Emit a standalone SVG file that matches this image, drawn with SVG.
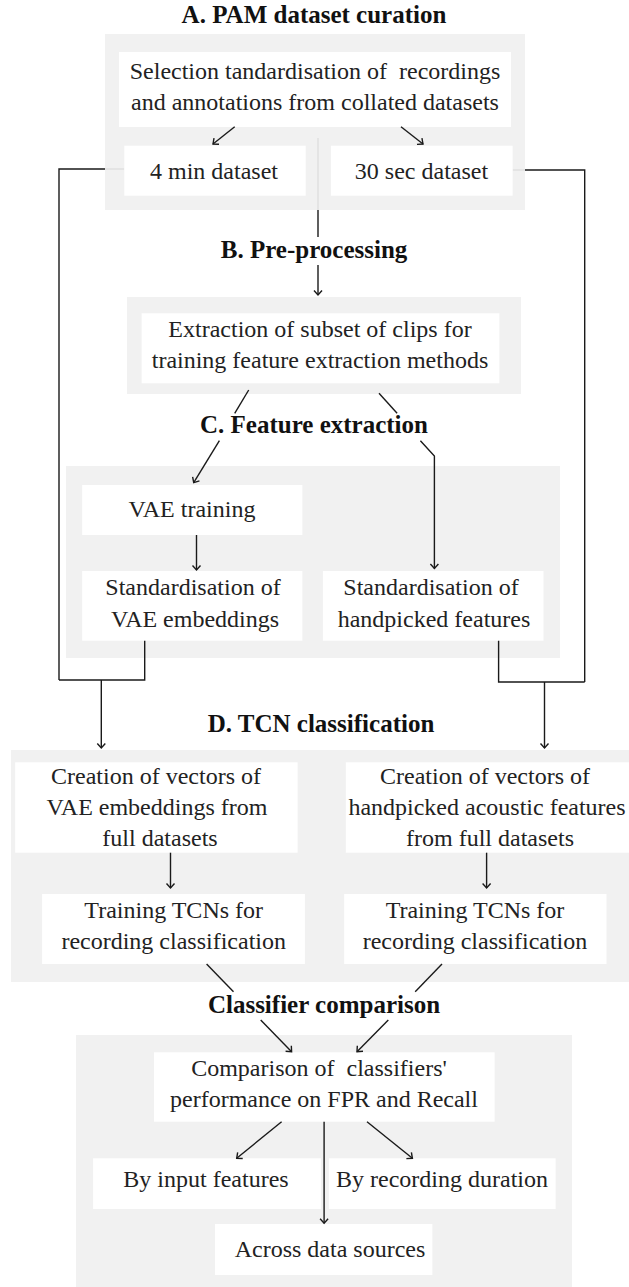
<svg xmlns="http://www.w3.org/2000/svg" width="629" height="1287" viewBox="0 0 629 1287">
  <defs>
    <style>
      .panel { fill: #f1f1f1; }
      .box { fill: #ffffff; }
      .title { font-family: "Liberation Serif", "DejaVu Serif", serif; font-size: 25px; font-weight: 700; fill: #111111; text-anchor: middle; }
      .label { font-family: "Liberation Serif", "DejaVu Serif", serif; font-size: 24px; font-weight: 400; fill: #222222; text-anchor: middle; }
      .link { fill: none; stroke: #1a1a1a; stroke-width: 1.4; }
      .faint { fill: none; stroke: #dcdcdc; stroke-width: 1.2; }
      .faint-in { fill: none; stroke: #ececec; stroke-width: 1.2; }
    </style>
    <marker id="arrow" markerUnits="userSpaceOnUse" markerWidth="12" markerHeight="12" refX="6" refY="6" orient="auto">
      <path d="M1.5,2 L6,6 L1.5,10" fill="none" stroke="#1a1a1a" stroke-width="1.4"/>
    </marker>
  </defs>

  <rect width="629" height="1287" fill="#ffffff"/>

  <!-- stage panels -->
  <g id="panel-a"><rect class="panel" x="105" y="34" width="420" height="176"/></g>
  <g id="panel-b"><rect class="panel" x="127" y="297" width="394" height="97"/></g>
  <g id="panel-c"><rect class="panel" x="66" y="466" width="494" height="192"/></g>
  <g id="panel-d"><rect class="panel" x="11" y="750" width="630" height="232"/></g>
  <g id="panel-e"><rect class="panel" x="76" y="1035" width="496" height="260"/></g>

  <!-- faint guide segments lying under the panels and boxes -->
  <g id="faint-links">
    <line class="faint-in" x1="257" y1="110" x2="234.7" y2="126.7"/>
    <line class="faint-in" x1="381" y1="111" x2="401" y2="126.7"/>
    <line class="faint" x1="318" y1="138" x2="318" y2="210"/>
    <line class="faint" x1="105" y1="169" x2="124.3" y2="169"/>
    <line class="faint" x1="512.6" y1="170" x2="525" y2="170"/>
  </g>

  <!-- stage titles -->
  <g id="title-a"><text class="title" x="314" y="23">A. PAM dataset curation</text></g>
  <g id="title-b"><text class="title" x="314" y="258">B. Pre-processing</text></g>
  <g id="title-c"><text class="title" x="314" y="433">C. Feature extraction</text></g>
  <g id="title-d"><text class="title" x="321" y="732">D. TCN classification</text></g>
  <g id="title-e"><text class="title" x="324" y="1013">Classifier comparison</text></g>

  <!-- A. dataset curation -->
  <g id="selection">
    <rect class="box" x="119" y="52" width="392" height="75"/>
    <text class="label" x="315" y="78.7" xml:space="preserve">Selection tandardisation of  recordings</text>
    <text class="label" x="315" y="110">and annotations from collated datasets</text>
  </g>
  <g id="dataset-4min">
    <rect class="box" x="124.3" y="145.7" width="181.4" height="50"/>
    <text class="label" x="214" y="179.3">4 min dataset</text>
  </g>
  <g id="dataset-30sec">
    <rect class="box" x="330.9" y="145.7" width="181.7" height="50"/>
    <text class="label" x="421.5" y="179.3">30 sec dataset</text>
  </g>

  <!-- B. pre-processing -->
  <g id="clip-extraction">
    <rect class="box" x="141.6" y="313.3" width="357.8" height="70"/>
    <text class="label" x="320" y="337.3">Extraction of subset of clips for</text>
    <text class="label" x="320" y="368.3">training feature extraction methods</text>
  </g>

  <!-- C. feature extraction -->
  <g id="vae-training">
    <rect class="box" x="82.2" y="485" width="220.2" height="50"/>
    <text class="label" x="192" y="516.7">VAE training</text>
  </g>
  <g id="vae-standardisation">
    <rect class="box" x="82.2" y="571" width="220.2" height="69.7"/>
    <text class="label" x="193" y="595">Standardisation of</text>
    <text class="label" x="195" y="626.7">VAE embeddings</text>
  </g>
  <g id="handpicked-standardisation">
    <rect class="box" x="322.9" y="571" width="220.6" height="69.7"/>
    <text class="label" x="431" y="595">Standardisation of</text>
    <text class="label" x="434" y="626.7">handpicked features</text>
  </g>

  <!-- D. TCN classification -->
  <g id="vae-vectors">
    <rect class="box" x="15.2" y="762.3" width="282.4" height="90.4"/>
    <text class="label" x="156" y="784">Creation of vectors of</text>
    <text class="label" x="157" y="815">VAE embeddings from</text>
    <text class="label" x="160" y="846">full datasets</text>
  </g>
  <g id="handpicked-vectors">
    <rect class="box" x="345.8" y="762.3" width="284" height="90.4"/>
    <text class="label" x="485" y="784">Creation of vectors of</text>
    <text class="label" x="487" y="815">handpicked acoustic features</text>
    <text class="label" x="490" y="846">from full datasets</text>
  </g>
  <g id="vae-tcn">
    <rect class="box" x="42.1" y="894" width="262.8" height="70"/>
    <text class="label" x="173.7" y="918">Training TCNs for</text>
    <text class="label" x="173.7" y="949">recording classification</text>
  </g>
  <g id="handpicked-tcn">
    <rect class="box" x="344.2" y="894" width="262.3" height="70"/>
    <text class="label" x="475" y="918">Training TCNs for</text>
    <text class="label" x="475" y="949">recording classification</text>
  </g>

  <!-- classifier comparison -->
  <g id="comparison">
    <rect class="box" x="154" y="1052.3" width="340.6" height="69.4"/>
    <text class="label" x="319" y="1075.7" xml:space="preserve">Comparison of  classifiers'</text>
    <text class="label" x="324" y="1106.7">performance on FPR and Recall</text>
  </g>
  <g id="by-input">
    <rect class="box" x="93.1" y="1158.3" width="227.8" height="50.7"/>
    <text class="label" x="206" y="1186.7">By input features</text>
  </g>
  <g id="by-duration">
    <rect class="box" x="328.9" y="1158.3" width="226.7" height="50.7"/>
    <text class="label" x="442" y="1186.7">By recording duration</text>
  </g>
  <g id="by-source">
    <rect class="box" x="215" y="1224" width="217.4" height="51"/>
    <text class="label" x="330" y="1256.7">Across data sources</text>
  </g>

  <!-- connectors -->
  <g id="connectors">
    <line class="link" x1="234.7" y1="126.7" x2="213" y2="144" marker-end="url(#arrow)"/>
    <line class="link" x1="401" y1="126.7" x2="423" y2="144" marker-end="url(#arrow)"/>
    <line class="link" x1="318" y1="210" x2="318" y2="237"/>
    <line class="link" x1="318" y1="265" x2="318" y2="295" marker-end="url(#arrow)"/>
    <path class="link" d="M105,169 H59 V680"/>
    <path class="link" d="M525,170 H584.7 V682"/>
    <path class="link" d="M144.7,640.7 V680 H59"/>
    <line class="link" x1="101.3" y1="680" x2="101.3" y2="748" marker-end="url(#arrow)"/>
    <path class="link" d="M498.6,640.7 V682 H584.7"/>
    <line class="link" x1="544.5" y1="682" x2="544.5" y2="748" marker-end="url(#arrow)"/>
    <line class="link" x1="248.7" y1="390" x2="234.7" y2="413.3"/>
    <line class="link" x1="379" y1="393.3" x2="397.1" y2="413.3"/>
    <line class="link" x1="219.4" y1="440.7" x2="193.7" y2="482.7" marker-end="url(#arrow)"/>
    <path class="link" d="M420.4,440.7 L434.4,456 V568.5" marker-end="url(#arrow)"/>
    <line class="link" x1="196.5" y1="535" x2="196.5" y2="570" marker-end="url(#arrow)"/>
    <line class="link" x1="170.5" y1="852.7" x2="170.5" y2="888" marker-end="url(#arrow)"/>
    <line class="link" x1="486.6" y1="852.7" x2="486.6" y2="888" marker-end="url(#arrow)"/>
    <line class="link" x1="206.6" y1="964" x2="233.5" y2="991.7"/>
    <line class="link" x1="442" y1="964" x2="415.2" y2="991.7"/>
    <line class="link" x1="260.7" y1="1020" x2="291.6" y2="1051.7" marker-end="url(#arrow)"/>
    <line class="link" x1="388.3" y1="1020" x2="357" y2="1051.7" marker-end="url(#arrow)"/>
    <line class="link" x1="281.6" y1="1121.7" x2="236.7" y2="1158.3" marker-end="url(#arrow)"/>
    <line class="link" x1="324.1" y1="1121.7" x2="324.1" y2="1223.3" marker-end="url(#arrow)"/>
    <line class="link" x1="367" y1="1121.7" x2="412.4" y2="1158.3" marker-end="url(#arrow)"/>
  </g>
</svg>
